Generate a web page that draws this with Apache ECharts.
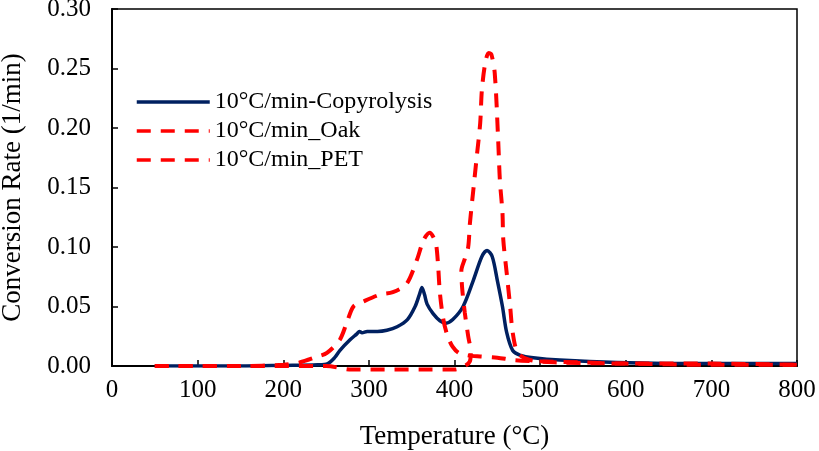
<!DOCTYPE html>
<html>
<head>
<meta charset="utf-8">
<script src="https://cdn.jsdelivr.net/npm/echarts@6/dist/echarts.min.js"></script>
<style>
  html, body { margin: 0; padding: 0; background: #fff; }
  #chart { width: 819px; height: 451px; }
</style>
</head>
<body>
<div id="chart"></div>
<script>
// --- Dados ---
const seriesNames = ['10°C/min-Copyrolysis', '10°C/min_Oak', '10°C/min_PET'];

const copyT = [50, 150, 200, 240, 252, 260, 266, 278, 286, 289, 292, 298, 310, 321, 333, 345, 354, 359, 362, 365, 368, 375, 383, 390, 398, 410, 422, 432, 438, 444, 450, 456, 461, 468, 477, 492, 523, 590, 700, 800];
const copyR = [0.000, 0.000, 0.0005, 0.001, 0.002, 0.007, 0.013, 0.022, 0.027, 0.029, 0.028, 0.029, 0.029, 0.030, 0.033, 0.039, 0.050, 0.060, 0.066, 0.060, 0.052, 0.044, 0.038, 0.036, 0.039, 0.050, 0.072, 0.092, 0.097, 0.092, 0.072, 0.050, 0.028, 0.013, 0.009, 0.007, 0.005, 0.003, 0.002, 0.002];

const oakT = [50, 150, 200, 219, 240, 251, 266, 274, 282, 293, 313, 328, 344, 356, 364, 371, 377, 379, 381, 383, 387, 392, 398, 405, 415, 430, 450, 470, 500, 550, 600, 700, 800];
const oakR = [0.000, 0.000, 0.001, 0.003, 0.008, 0.011, 0.022, 0.036, 0.050, 0.054, 0.060, 0.062, 0.069, 0.089, 0.106, 0.112, 0.106, 0.100, 0.083, 0.061, 0.039, 0.025, 0.016, 0.011, 0.009, 0.008, 0.007, 0.005, 0.004, 0.003, 0.002, 0.002, 0.001];

const petT = [50, 150, 250, 280, 320, 360, 400, 412, 418, 419, 416, 412, 409, 408, 412, 416, 418, 422, 426, 430, 432, 436, 440, 443, 447, 451, 453, 456, 457, 461, 465, 468, 474, 488, 520, 600, 700, 800];
const petR = [0.000, 0.000, 0.000, -0.003, -0.003, -0.003, -0.003, 0.000, 0.004, 0.012, 0.025, 0.045, 0.065, 0.080, 0.090, 0.100, 0.120, 0.148, 0.176, 0.204, 0.232, 0.255, 0.263, 0.262, 0.246, 0.190, 0.156, 0.129, 0.106, 0.078, 0.050, 0.028, 0.011, 0.005, 0.003, 0.002, 0.001, 0.001];

const xTicks = [0, 100, 200, 300, 400, 500, 600, 700, 800];
const yTicks = [0.00, 0.05, 0.10, 0.15, 0.20, 0.25, 0.30];

const zip = (xs, ys) => xs.map((x, i) => [x, ys[i]]);

const chart = echarts.init(document.getElementById('chart'));
const fontFamily = '"Liberation Serif", "Times New Roman", serif';

const option = {
    backgroundColor: '#fff',
    animation: false,
    textStyle: { fontFamily },
    grid: { left: 112, right: 22, top: 9, bottom: 85, outerBoundsMode: 'none', containLabel: false, show: true, borderColor: '#000', borderWidth: 1.5, backgroundColor: 'transparent' },
    legend: {
        orient: 'vertical', left: 130, top: 85, itemWidth: 73, itemHeight: 14, itemGap: 5,
        itemStyle: { opacity: 0 },
        lineStyle: { width: 3.5 },
        textStyle: { fontFamily, fontSize: 24, color: '#000' },
        data: seriesNames
    },
    xAxis: {
        type: 'value', min: xTicks[0], max: xTicks[xTicks.length - 1], interval: 100,
        name: 'Temperature (°C)', nameLocation: 'middle', nameGap: 57,
        nameTextStyle: { fontFamily, fontSize: 27, color: '#000' },
        axisLine: { lineStyle: { color: '#000', width: 2 } },
        axisTick: { inside: true, length: 6, lineStyle: { color: '#000', width: 1.5 } },
        axisLabel: { fontSize: 25, color: '#000', margin: 12 },
        splitLine: { show: false }
    },
    yAxis: {
        type: 'value', min: yTicks[0], max: yTicks[yTicks.length - 1], interval: 0.05,
        name: 'Conversion Rate (1/min)', nameLocation: 'middle', nameGap: 86,
        nameTextStyle: { fontFamily, fontSize: 27, color: '#000' },
        axisLine: { lineStyle: { color: '#000', width: 2 } },
        axisTick: { inside: true, length: 6, lineStyle: { color: '#000', width: 1.5 } },
        axisLabel: { fontSize: 25, color: '#000', margin: 21, formatter: v => v.toFixed(2) },
        splitLine: { show: false }
    },
    series: [
        { name: seriesNames[0], type: 'line', smooth: 0.3, showSymbol: false, symbol: 'none',
          lineStyle: { color: '#002060', width: 3.5 }, itemStyle: { color: '#002060' }, data: zip(copyT, copyR) },
        { name: seriesNames[1], type: 'line', smooth: 0.3, showSymbol: false, symbol: 'none',
          lineStyle: { color: '#ff0000', width: 4, type: [14, 10] }, itemStyle: { color: '#ff0000' }, data: zip(oakT, oakR) },
        { name: seriesNames[2], type: 'line', smooth: 0.3, showSymbol: false, symbol: 'none', clip: false,
          lineStyle: { color: '#ff0000', width: 4, type: [14, 10] }, itemStyle: { color: '#ff0000' }, data: zip(petT, petR) }
    ]
};

chart.setOption(option);
</script>
</body>
</html>
